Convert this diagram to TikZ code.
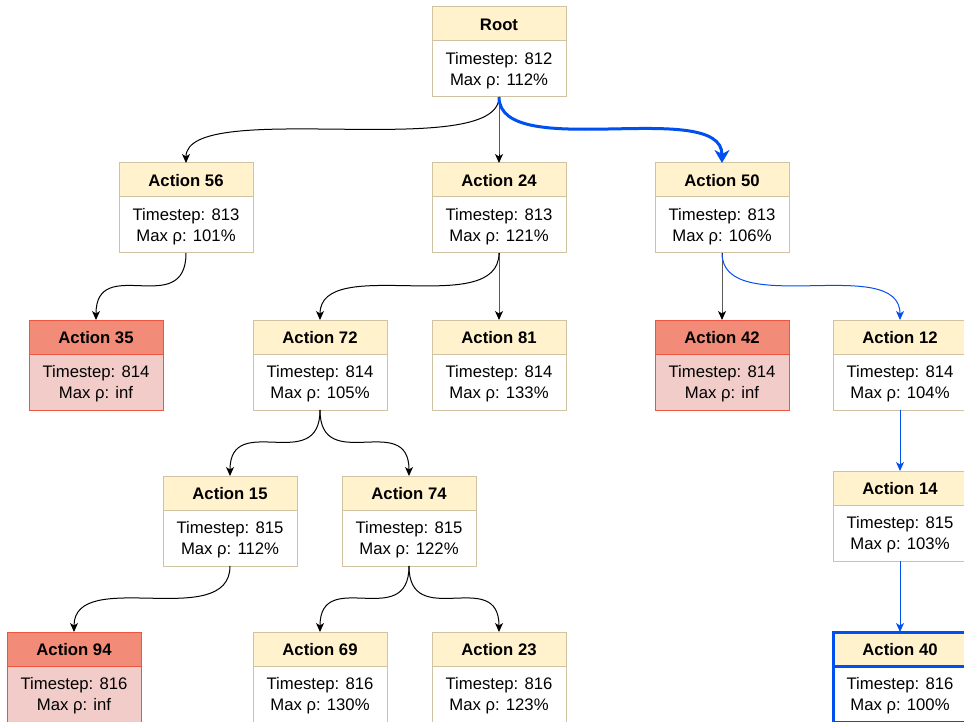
\documentclass[tikz,border=0pt]{standalone}
\usepackage{fontspec}
\setmainfont{Liberation Sans}
\usetikzlibrary{arrows.meta}

\definecolor{hdrfill}{HTML}{FFF2CC}
\definecolor{boxline}{HTML}{CFC3A3}
\definecolor{failhdr}{HTML}{F28C78}
\definecolor{failbody}{HTML}{F1CCC8}
\definecolor{failline}{HTML}{EC5640}
\definecolor{bestblue}{HTML}{0050EF}

\tikzset{
  x=1pt, y=-1pt,
  hd/.style={draw=boxline, fill=hdrfill, line width=1pt, minimum width=134pt,
    minimum height=34pt, inner sep=0pt, outer sep=0pt, anchor=north},
  bd/.style={draw=boxline, fill=white, line width=1pt, minimum width=134pt,
    minimum height=56pt, inner sep=0pt, outer sep=0pt, anchor=north},
  hdtext/.style={inner sep=0pt, font=\bfseries\fontsize{16.7}{21}\selectfont},
  bdtext/.style={inner sep=0pt, align=center, font=\fontsize{16.7}{21}\selectfont},
  hdfail/.style={draw=failline, fill=failhdr},
  bdfail/.style={draw=failline, fill=failbody},
  hdbest/.style={draw=bestblue, line width=3pt},
  bdbest/.style={draw=bestblue, line width=3pt},
  link/.style={draw=black, line width=1pt, -{Stealth[length=9pt,width=8pt,inset=2.5pt]}},
  bestlink/.style={draw=bestblue, line width=1pt, -{Stealth[length=9pt,width=8pt,inset=2.5pt]}},
  bestthick/.style={draw=bestblue, line width=3pt, -{Stealth[length=13pt,width=15pt,inset=4pt]}},
}

% header + body box: [variant]{name}{center x}{top y}{title}{timestep}{rho}
\newcommand\actnode[7][]{%
  \node[hd, hd#1] (#2) at (#3,#4) {};
  \node[bd, bd#1] (#2b) at (#2.south) {};
  \node[hdtext] (#2ht) at ([yshift=-1pt]#2.center) {#5};
  \node[bdtext] (#2bt) at ([yshift=-1.5pt]#2b.center) {Timestep: #6\\Max ρ: #7};
}
% curved tree connector from a box body to a child header
\newcommand\treelink[3][link]{%
  \draw[#1] (#2b.south) .. controls (#2b.south |- #3.north) and (#3.north |- #2b.south) .. (#3.north);
}

\begin{document}
\begin{tikzpicture}
\useasboundingbox (0,0) rectangle (964,722);

\actnode{root}{499}{7}{Root}{812}{112\%}

\actnode{a56}{186}{163}{Action 56}{813}{101\%}
\actnode{a24}{499}{163}{Action 24}{813}{121\%}
\actnode{a50}{722}{163}{Action 50}{813}{106\%}

\actnode[fail]{a35}{96}{320}{Action 35}{814}{inf}
\actnode{a72}{320}{320}{Action 72}{814}{105\%}
\actnode{a81}{499}{320}{Action 81}{814}{133\%}
\actnode[fail]{a42}{722}{320}{Action 42}{814}{inf}
\actnode{a12}{900}{320}{Action 12}{814}{104\%}

\actnode{a15}{230}{476}{Action 15}{815}{112\%}
\actnode{a74}{409}{476}{Action 74}{815}{122\%}
\actnode{a14}{900}{471}{Action 14}{815}{103\%}

\actnode[fail]{a94}{74}{632}{Action 94}{816}{inf}
\actnode{a69}{320}{632}{Action 69}{816}{130\%}
\actnode{a23}{499}{632}{Action 23}{816}{123\%}
\actnode[best]{a40}{900}{632}{Action 40}{816}{100\%}

\treelink{root}{a56}
\treelink{root}{a24}
\treelink[bestthick]{root}{a50}
\treelink{a56}{a35}
\treelink{a24}{a72}
\treelink{a24}{a81}
\treelink{a50}{a42}
\treelink[bestlink]{a50}{a12}
\treelink{a72}{a15}
\treelink{a72}{a74}
\treelink[bestlink]{a12}{a14}
\treelink{a15}{a94}
\treelink{a74}{a69}
\treelink{a74}{a23}
\treelink[bestlink]{a14}{a40}
\end{tikzpicture}
\end{document}
